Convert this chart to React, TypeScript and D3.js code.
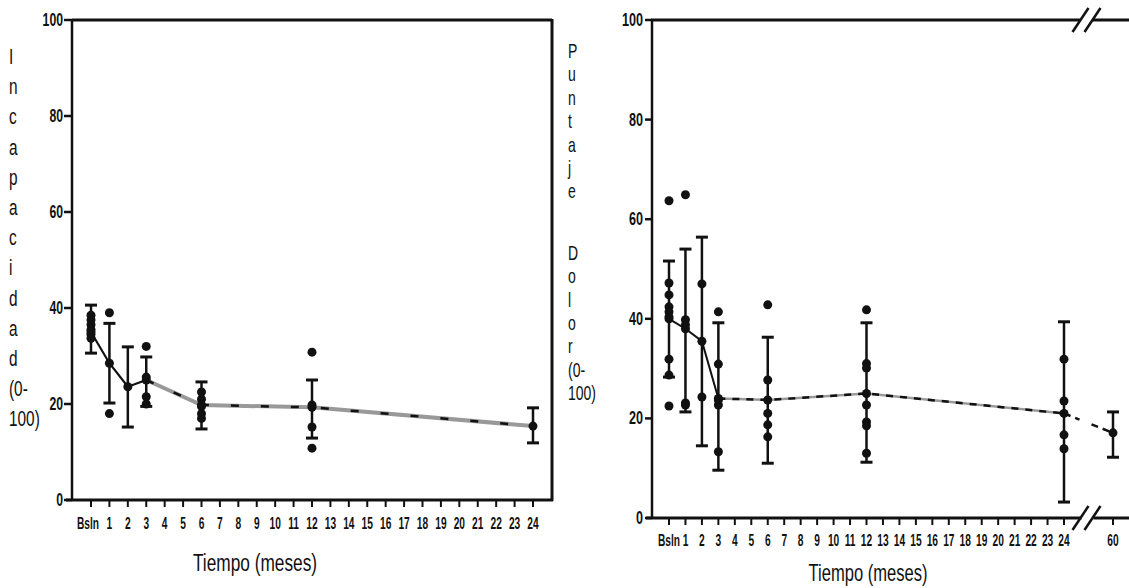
import React from 'react';
import * as d3 from 'd3';

// Panel izquierdo: Incapacidad (0-100)
const leftMonths = [0, 1, 2, 3, 6, 12, 24];
const leftMeans = [35, 28.5, 23.6, 25, 19.8, 19.3, 15.4];
const leftLow = [30.6, 20.2, 15.2, 19.5, 14.8, 12.9, 11.9];
const leftHigh = [40.6, 36.8, 31.9, 29.8, 24.6, 25, 19.2];
const leftPoints = [
  [38.5, 37.5, 36.5, 35.5, 34.5, 33.7],
  [39, 18],
  [],
  [32, 25.6, 21.5, 20],
  [22.5, 21, 19.5, 18, 17],
  [30.8, 19.8, 15.2, 10.8],
  [],
];
const leftTicks = d3.range(0, 25);
const leftTickLabels = ['Bsln', ...d3.range(1, 25).map(String)];

// Panel derecho: Puntaje Dolor (0-100)
const rightMonths = [0, 1, 2, 3, 6, 12, 24, 60];
const rightMeans = [40, 38, 35.5, 24, 23.7, 25, 21, 17.1];
const rightLow = [28.3, 21.3, 14.5, 9.6, 11, 11.2, 3.2, 12.2];
const rightHigh = [51.6, 54, 56.4, 39.2, 36.3, 39.2, 39.4, 21.3];
const rightPoints = [
  [63.7, 47.2, 44.8, 42.4, 41.4, 40.4, 31.9, 28.7, 22.5],
  [64.9, 39.8, 38.8, 23.1, 22.7],
  [47, 24.3],
  [41.4, 30.9, 23.7, 22.7, 13.3],
  [42.8, 27.7, 21, 18.7, 16.3],
  [41.8, 31, 30.1, 22.7, 19.3, 18.5, 13],
  [31.9, 23.5, 16.7, 13.9],
  [],
];
const rightTicks = [...d3.range(0, 25), 60];
const rightTickLabels = ['Bsln', ...d3.range(1, 25).map(String), '60'];

const yTicks = [0, 20, 40, 60, 80, 100];
const leftLabel = ['I', 'n', 'c', 'a', 'p', 'a', 'c', 'i', 'd', 'a', 'd', '(0-', '100)'];
const rightLabel = ['P', 'u', 'n', 't', 'a', 'j', 'e', 'D', 'o', 'l', 'o', 'r', '(0-', '100)'];

const FONT = 'Liberation Sans, Arial, sans-serif';
const INK = '#111';

const SText = ({ x, y, size, sx = 0.65, anchor = 'middle', weight = 'normal', children }: any) => (
  <text
    transform={`translate(${x},${y}) scale(${sx},1)`}
    textAnchor={anchor}
    fontSize={size}
    fontWeight={weight}
    fontFamily={FONT}
    fill={INK}
  >
    {children}
  </text>
);

const Markers = ({ months, means, low, high, points, x, y }: any) => (
  <g>
    {months.map((m: number, i: number) => (
      <g key={m}>
        <line x1={x(m)} x2={x(m)} y1={y(low[i])} y2={y(high[i])} stroke={INK} strokeWidth={2.5} />
        <line x1={x(m) - 6} x2={x(m) + 6} y1={y(low[i])} y2={y(low[i])} stroke={INK} strokeWidth={3} />
        <line x1={x(m) - 6} x2={x(m) + 6} y1={y(high[i])} y2={y(high[i])} stroke={INK} strokeWidth={3} />
        {points[i].map((v: number, j: number) => (
          <circle key={j} cx={x(m)} cy={y(v)} r={4.5} fill={INK} />
        ))}
        <circle cx={x(m)} cy={y(means[i])} r={4.5} fill={INK} />
      </g>
    ))}
  </g>
);

export default function App() {
  // escalas
  const xL = d3.scaleLinear().domain([0, 24]).range([91, 533]);
  const yL = d3.scaleLinear().domain([0, 100]).range([500, 20]);
  const xR = d3.scaleLinear().domain([0, 24, 60]).range([669, 1064, 1113]);
  const yR = d3.scaleLinear().domain([0, 100]).range([518, 20]);

  const lineR = d3.line<[number, number]>().x((d) => xR(d[0])).y((d) => yR(d[1]));
  const lSolid = d3.line<number>()
    .x((d) => xL(d))
    .y((d) => yL(leftMeans[leftMonths.indexOf(d)]));
  const leftEarly = leftMonths.filter((m) => m <= 3);
  const leftLate = leftMonths.filter((m) => m >= 3);

  const rPairs: [number, number][] = rightMonths.map((m, i) => [m, rightMeans[i]]);
  const rEarly = rPairs.filter((p) => p[0] <= 3);
  const rLate = rPairs.filter((p) => p[0] >= 3 && p[0] <= 24);

  // corte del eje entre 24 y 60
  const breakX = (xR(24) + xR(60)) / 2 - 2;
  const p24 = [xR(24), yR(rightMeans[6])];
  const p60 = [xR(60), yR(rightMeans[7])];
  const at = (px: number) => p24[1] + ((px - p24[0]) / (p60[0] - p24[0])) * (p60[1] - p24[1]);
  const g1 = breakX - 7;
  const g2 = breakX + 5;

  const slashes = (cy: number) =>
    [-6, 6].map((dx) => (
      <line key={dx} x1={breakX + dx - 8} y1={cy + 12} x2={breakX + dx + 8} y2={cy - 12} stroke={INK} strokeWidth={2.5} />
    ));

  return (
    <svg width={1129} height={588} style={{ position: 'absolute', left: 0, top: 0, background: '#fff' }}>
      <rect width={1129} height={588} fill="#fff" />

      {/* ===== panel izquierdo ===== */}
      <g>
        <line x1={72} x2={72} y1={19} y2={501} stroke={INK} strokeWidth={2.5} />
        <line x1={72} x2={552} y1={20} y2={20} stroke={INK} strokeWidth={3} />
        <line x1={552} x2={552} y1={19} y2={501} stroke={INK} strokeWidth={3} />
        <line x1={66} x2={553} y1={500} y2={500} stroke={INK} strokeWidth={3} />
        {yTicks.map((t) => (
          <g key={t}>
            <line x1={64} x2={72} y1={yL(t)} y2={yL(t)} stroke={INK} strokeWidth={2.5} />
            <SText x={63} y={yL(t) + 6} size={18} sx={0.68} anchor="end" weight="bold">{t}</SText>
          </g>
        ))}
        {leftTicks.map((t, i) => (
          <g key={t}>
            <line x1={xL(t)} x2={xL(t)} y1={500} y2={507} stroke={INK} strokeWidth={2} />
            <SText x={xL(t) - (i === 0 ? 3 : 0)} y={529} size={17} sx={0.6} weight="bold">{leftTickLabels[i]}</SText>
          </g>
        ))}
        <path d={lSolid(leftEarly) || ''} fill="none" stroke={INK} strokeWidth={2.2} />
        <path d={lSolid(leftLate) || ''} fill="none" stroke="#999" strokeWidth={4} />
        <path d={lSolid(leftLate) || ''} fill="none" stroke={INK} strokeWidth={2.5} strokeDasharray="8 22" />
        <Markers months={leftMonths} means={leftMeans} low={leftLow} high={leftHigh} points={leftPoints} x={xL} y={yL} />
        <SText x={255} y={571} size={24} sx={0.72}>Tiempo (meses)</SText>
      </g>

      {/* etiqueta vertical izquierda */}
      <g>
        {leftLabel.map((s, i) => (
          <SText key={i} x={9} y={64 + i * 30.2} size={22} sx={0.7} anchor="start">{s}</SText>
        ))}
      </g>

      {/* ===== panel derecho ===== */}
      <g>
        <line x1={652} x2={652} y1={19} y2={519} stroke={INK} strokeWidth={2.5} />
        <line x1={651} x2={breakX - 6} y1={20} y2={20} stroke={INK} strokeWidth={3} />
        <line x1={breakX + 6} x2={1129} y1={20} y2={20} stroke={INK} strokeWidth={3} />
        {slashes(20)}
        <line x1={646} x2={breakX - 5} y1={518} y2={518} stroke={INK} strokeWidth={3} />
        <line x1={breakX + 7} x2={1129} y1={518} y2={518} stroke={INK} strokeWidth={3} />
        {slashes(518)}
        {yTicks.map((t) => (
          <g key={t}>
            <line x1={645} x2={652} y1={yR(t)} y2={yR(t)} stroke={INK} strokeWidth={2.5} />
            <SText x={643} y={yR(t) + 6} size={18} sx={0.7} anchor="end" weight="bold">{t}</SText>
          </g>
        ))}
        {rightTicks.map((t, i) => (
          <g key={t}>
            <line x1={xR(t)} x2={xR(t)} y1={518} y2={525} stroke={INK} strokeWidth={2} />
            <SText x={xR(t)} y={546} size={17} sx={0.6} weight="bold">{rightTickLabels[i]}</SText>
          </g>
        ))}
        <path d={lineR(rEarly) || ''} fill="none" stroke={INK} strokeWidth={2} />
        <path d={lineR(rLate) || ''} fill="none" stroke="#9a9a9a" strokeWidth={2.5} />
        <path d={lineR(rLate) || ''} fill="none" stroke={INK} strokeWidth={2.5} strokeDasharray="7 7" />
        <line x1={p24[0]} y1={p24[1]} x2={g1} y2={at(g1)} stroke={INK} strokeWidth={2.5} strokeDasharray="7 5" />
        <line x1={g2} y1={at(g2)} x2={p60[0]} y2={p60[1]} stroke={INK} strokeWidth={2.5} strokeDasharray="7 5" />
        <Markers months={rightMonths} means={rightMeans} low={rightLow} high={rightHigh} points={rightPoints} x={xR} y={yR} />
        <SText x={868} y={581} size={23} sx={0.72}>Tiempo (meses)</SText>
      </g>

      {/* etiqueta vertical derecha */}
      <g>
        {rightLabel.map((s, i) => (
          <SText key={i} x={568} y={58 + i * 23.4 + (i >= 7 ? 38 : 0)} size={20} sx={0.7} anchor="start">{s}</SText>
        ))}
      </g>
    </svg>
  );
}
